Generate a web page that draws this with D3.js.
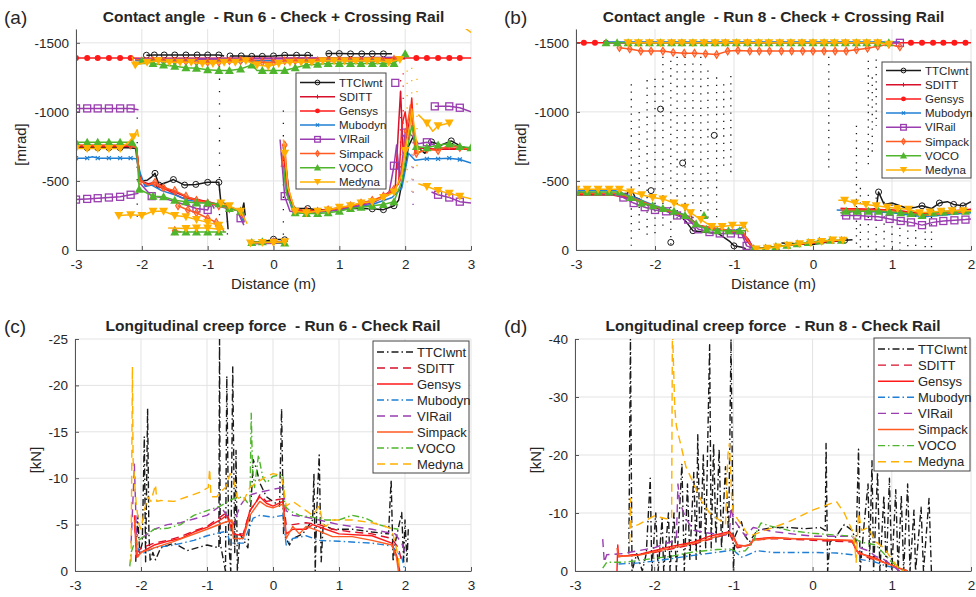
<!DOCTYPE html>
<html>
<head>
<meta charset="utf-8">
<script src="https://cdn.jsdelivr.net/npm/d3@7"></script>
<style>
  body { margin: 0; background: #fff; }
  svg { display: block; }
  text { font-family: "Liberation Sans", Arial, Helvetica, sans-serif; fill: #262626; white-space: pre; }
</style>
</head>
<body>
<svg id="chart" width="976" height="597"></svg>
<script>
// Series names / styles (same order in every panel)
const names = ['TTCIwnt', 'SDITT', 'Gensys', 'Mubodyn', 'VIRail', 'Simpack', 'VOCO', 'Medyna'];
const colors = ['#1a1a1a', '#d8102b', '#ff1a1a', '#1f7fd4', '#9a3db0', '#ff5a22', '#4fb52c', '#ffb000'];
const markerTypes = ['circle', 'plus', 'dot', 'x', 'square', 'diamond', 'triUp', 'triDown'];
const dashes = ['7,3,1.5,3', '8,5', null, '7,3,1.5,3', '8,5', null, '7,3,1.5,3', '8,5'];

const xTicksA = [-3, -2, -1, 0, 1, 2, 3];
const xTicksB = [-3, -2, -1, 0, 1, 2];
const yTicksAngle = [0, -500, -1000, -1500];
const yTicksC = [0, -5, -10, -15, -20, -25];
const yTicksD = [0, -10, -20, -30, -40];

// ---------- (a) contact angle, run 6  [x m, angle mrad, 0 = no marker]
const a_TTCIwnt = [
  [[-1.93,-1410],[-1.81,-1412],[-1.66,-1412],[-1.5,-1412],[-1.33,-1412],[-1.16,-1412],[-1.0,-1412],[-0.83,-1412],[-0.75,-1405,0]],
  [[-0.66,-1405],[-0.49,-1405],[-0.33,-1402],[-0.17,-1402],[0,-1405],[0.17,-1410],[0.35,-1410],[0.52,-1410],[0.6,-1408,0]],
  [[0.8,-1420,0],[0.84,-1422],[1.0,-1422],[1.17,-1420],[1.34,-1420],[1.5,-1420],[1.67,-1420],[1.8,-1420,0]],
  [[-3,-740,0],[-2.83,-740],[-2.67,-740],[-2.5,-740],[-2.33,-740],[-2.2,-740,0],[-2.08,-735,0],[-2.04,-560,0],[-2.0,-500,0],
   [-1.92,-505,0],[-1.85,-530,0],[-1.8,-555],[-1.74,-470],[-1.62,-490,0],[-1.52,-510],[-1.35,-470],[-1.18,-475],[-1.0,-490],
   [-0.83,-490],[-0.8,-350,0],[-0.72,-330,0],[-0.69,-150,0]],
  [[-0.52,-280,0],[-0.47,-300,0],[-0.45,-340,0],[-0.43,-250,0]],
  [[-0.35,-50,0],[-0.15,-60,0],[0,-78],[0.17,-74],[0.2,-60,0]],
  [[0.15,-760,0],[0.2,-560,0],[0.25,-360,0],[0.33,-300,0],[0.52,-300],[0.7,-290,0],[1.0,-300,0],[1.35,-300,0],[1.5,-298],
   [1.67,-292],[1.83,-320],[1.9,-360,0],[1.95,-480,0],[2.0,-600,0],[2.05,-750,0],[2.12,-820,0],[2.2,-740,0],[2.3,-700,0],
   [2.4,-783],[2.55,-760,0],[2.7,-790],[2.85,-750,0],[3,-730,0]]
];
const a_SDITT = [
  [[-2.1,-1380,0],[-1.0,-1382,0],[0,-1385,0],[1.0,-1385,0],[2.0,-1385,0]],
  [[-3,-750,0],[-2.1,-750,0],[-2.03,-500,0],[-1.9,-480,0],[-1.8,-490,0],[-1.6,-440,0],[-1.3,-380,0],[-1.0,-350,0],[-0.6,-300,0],[-0.45,-270,0]],
  [[-0.35,-55,0],[0.2,-60,0]],
  [[0.15,-750,0],[0.22,-400,0],[0.3,-290,0],[0.7,-285,0],[1.2,-320,0],[1.6,-370,0],[1.85,-450,0],[1.9,-900,0],[1.93,-1150,0],
   [1.97,-700,0],[2.05,-900,0],[2.1,-1000,0],[2.15,-740,0],[2.5,-730,0],[3,-730,0]]
];
const a_Gensys = [
  [[-3,-1390],[-2.83,-1390],[-2.67,-1390],[-2.5,-1390],[-2.33,-1390],[-2.17,-1390],[-2.0,-1388,0],[-1.0,-1388,0],[0,-1388,0],
   [1.0,-1388,0],[2.0,-1390,0],[2.17,-1390],[2.33,-1390],[2.5,-1390],[2.67,-1390],[2.83,-1390],[3,-1390,0]],
  [[-3,-755,0],[-2.15,-755,0],[-2.08,-740,0],[-2.03,-520,0],[-1.95,-470,0],[-1.8,-470,0],[-1.6,-430,0],[-1.4,-380,0],
   [-1.0,-350,0],[-0.7,-310,0],[-0.5,-280,0],[-0.45,-220,0]],
  [[-0.35,-55,0],[0.2,-60,0]],
  [[0.15,-700,0],[0.22,-400,0],[0.3,-290,0],[0.6,-280,0],[1.0,-300,0],[1.5,-350,0],[1.8,-420,0],[1.9,-480,0],[1.95,-900,0],
   [2.0,-1000,0],[2.05,-800,0],[2.1,-1100,0],[2.15,-700,0],[2.3,-720,0],[2.6,-740,0],[3,-730,0]]
];
const a_Mubodyn = [
  [[-2.1,-1370,0],[-1.5,-1372],[-1.0,-1372],[-0.5,-1370],[0,-1370],[0.5,-1372],[1.0,-1372],[1.5,-1372],[1.95,-1375,0]],
  [[-3,-665],[-2.83,-665],[-2.75,-675,0],[-2.67,-665],[-2.5,-665],[-2.33,-665],[-2.17,-665],[-2.08,-660,0],[-2.02,-550,0],
   [-1.95,-460,0],[-1.85,-470,0],[-1.7,-430,0],[-1.5,-400,0],[-1.3,-360,0],[-1.0,-340,0],[-0.7,-300,0],[-0.55,-290,0],[-0.45,-200,0]],
  [[-0.35,-50,0],[0.2,-55,0]],
  [[0.12,-700,0],[0.2,-420,0],[0.3,-270,0],[0.6,-270,0],[1.0,-290,0],[1.5,-330,0],[1.8,-380,0],[1.95,-450,0],[2.05,-700,0],
   [2.15,-650,0],[2.33,-660],[2.5,-660],[2.67,-665],[2.83,-655],[3,-630,0]]
];
const a_VIRail = [
  [[-2.1,-1385,0],[0,-1388,0],[2.0,-1395,0]],
  [[-3,-1025],[-2.83,-1025],[-2.67,-1025],[-2.5,-1025],[-2.33,-1025],[-2.17,-1025],[-2.05,-1015,0]],
  [[-3,-365],[-2.83,-370],[-2.67,-375],[-2.5,-380],[-2.33,-385],[-2.17,-400],[-2.05,-410,0]],
  [[-2.02,-480,0],[-1.85,-390],[-1.7,-380,0],[-1.5,-350,0],[-1.35,-330,0],[-1.17,-300],[-1.0,-290],[-0.95,-345,0],[-0.9,-300,0]],
  [[-0.55,-290,0],[-0.5,-230],[-0.45,-180,0]],
  [[-0.35,-45,0],[0.2,-50,0]],
  [[0.1,-800,0],[0.17,-390],[0.25,-280,0],[0.5,-270,0],[1.0,-290,0],[1.5,-340,0],[1.75,-400,0],[1.83,-610],[1.87,-760,0],
   [1.92,-500,0],[1.97,-700,0],[2.0,-850],[2.1,-830,0],[2.2,-770,0],[2.33,-780],[2.45,-760,0]],
  [[1.85,-1210]],
  [[2.45,-1040],[2.67,-1040],[2.83,-1030],[3,-1000,0]],
  [[2.4,-420,0],[2.5,-400],[2.67,-380],[2.83,-350],[3,-340,0]]
];
const a_Simpack = [
  [[-2.1,-1380,0],[-1.83,-1370],[-1.67,-1365],[-1.5,-1365],[-1.33,-1365],[-1.17,-1360],[-1.0,-1360],[-0.83,-1360],[-0.67,-1370],
   [-0.5,-1370],[-0.33,-1370],[-0.17,-1360],[0,-1360],[0.17,-1370],[0.33,-1370],[0.5,-1370],[0.67,-1370],[0.83,-1370],
   [1.0,-1375],[1.17,-1370],[1.33,-1370],[1.5,-1370],[1.67,-1370],[1.83,-1380],[1.95,-1400,0]],
  [[-3,-760],[-2.83,-760],[-2.67,-760],[-2.5,-760],[-2.33,-760],[-2.17,-760],[-2.08,-740,0],[-2.03,-500],[-1.9,-470,0],
   [-1.8,-490],[-1.67,-450],[-1.5,-430],[-1.33,-390],[-1.17,-360],[-1.0,-340],[-0.83,-320],[-0.67,-300],[-0.5,-280],[-0.45,-240,0]],
  [[-1.45,-320],[-1.3,-290],[-1.17,-270],[-1.0,-230],[-0.87,-200],[-0.8,-180,0],[-0.75,-130,0]],
  [[-1.5,-140],[-1.4,-130,0]],
  [[-0.35,-60,0],[0,-60],[0.2,-60,0]],
  [[0.12,-600,0],[0.17,-760],[0.22,-450,0],[0.33,-280],[0.5,-280],[0.67,-280],[0.83,-290],[1.0,-300],[1.17,-320],[1.33,-340],
   [1.5,-360],[1.67,-390],[1.83,-440],[1.92,-500,0],[1.97,-650,0],[2.02,-860],[2.08,-1050,0],[2.12,-850,0],[2.17,-700],
   [2.33,-730],[2.5,-720],[2.67,-760],[2.83,-740],[3,-730,0]]
];
const a_VOCO = [
  [[-2.1,-1330,0],[-2.0,-1370],[-1.83,-1350],[-1.67,-1340],[-1.5,-1330],[-1.33,-1320],[-1.17,-1315],[-1.0,-1305],[-0.83,-1300],
   [-0.67,-1300],[-0.5,-1310],[-0.33,-1340],[-0.25,-1300,0],[-0.17,-1300],[0,-1300],[0.17,-1300],[0.33,-1320],[0.5,-1340],
   [0.67,-1345],[0.83,-1350],[1.0,-1350],[1.17,-1350],[1.33,-1350],[1.5,-1350],[1.67,-1350],[1.83,-1350],[2.0,-1420]],
  [[-3,-780],[-2.83,-780],[-2.67,-780],[-2.5,-780],[-2.33,-780],[-2.15,-780],[-2.08,-740,0],[-2.04,-440],[-1.83,-390],
   [-1.67,-385],[-1.5,-360],[-1.33,-350],[-1.17,-340],[-1.0,-340],[-0.83,-335],[-0.67,-300],[-0.5,-280],[-0.45,-250,0]],
  [[-1.5,-130],[-1.33,-130],[-1.17,-130],[-1.0,-130],[-0.83,-130],[-0.72,-130,0]],
  [[-0.35,-55,0],[-0.33,-55],[-0.17,-60],[0.17,-50],[0.2,-50,0]],
  [[0.15,-600,0],[0.2,-400,0],[0.33,-270],[0.5,-265],[0.67,-265],[0.83,-270],[1.0,-280],[1.17,-300],[1.33,-310],[1.5,-320],
   [1.67,-330],[1.83,-350],[1.95,-500,0],[2.02,-700,0],[2.1,-900,0],[2.17,-750],[2.33,-740],[2.5,-760],[2.67,-770],[2.83,-750],[3,-740]]
];
const a_Medyna = [
  [[-2.15,-1400,0],[-2.1,-1340],[-1.92,-1360],[-1.75,-1370],[-1.58,-1360],[-1.42,-1360],[-1.25,-1360],[-1.08,-1350],[-0.92,-1350],
   [-0.75,-1360],[-0.58,-1360],[-0.42,-1370],[-0.25,-1340],[-0.08,-1330],[0.08,-1350],[0.25,-1360],[0.42,-1360],[0.58,-1360],
   [0.75,-1370],[0.92,-1370],[1.08,-1370],[1.25,-1370],[1.42,-1370],[1.58,-1370],[1.75,-1360],[1.92,-1380]],
  [[-3,-735],[-2.83,-735],[-2.67,-735],[-2.5,-735],[-2.33,-735],[-2.2,-780,0],[-2.13,-820],[-2.07,-870,0],[-2.05,-820,0]],
  [[-2.35,-250],[-2.17,-255],[-2.0,-250],[-1.83,-280],[-1.67,-280],[-1.5,-250],[-1.33,-240],[-1.17,-220],[-1.0,-200],[-0.83,-180],[-0.75,-150,0]],
  [[-1.6,-160,0],[-1.33,-155],[-1.17,-160],[-1.0,-160],[-0.83,-150],[-0.75,-150,0]],
  [[-0.8,-340],[-0.67,-320],[-0.5,-280],[-0.4,-190,0]],
  [[-0.35,-50],[-0.17,-55],[0,-55],[0.17,-60]],
  [[0.15,-800,0],[0.17,-700],[0.22,-450,0],[0.33,-280],[0.5,-270],[0.67,-280],[0.83,-290],[1.0,-310],[1.17,-320],[1.33,-340],
   [1.5,-350],[1.67,-380],[1.83,-420],[1.95,-550,0],[2.0,-720],[2.07,-900,0],[2.1,-1020,0],[2.15,-850,0],[2.2,-700,0]],
  [[2.2,-980,0],[2.33,-920],[2.42,-860,0],[2.5,-900],[2.67,-920]],
  [[2.2,-480,0],[2.33,-460],[2.5,-430],[2.67,-410],[2.83,-390],[3,-370,0]],
  [[2.9,-1610,0],[3,-1575,0]]
];
// dotted secondary-contact columns [x, top, bottom, series]
const a_dotCols = [[-2.07,-960,-240,0],[-0.82,-1330,-70,0],[0.15,-1010,-50,0],[-0.7,-300,-100,0],[1.93,-1230,-470,1],
  [1.97,-1280,-520,2],[2.03,-1300,-420,7],[2.1,-1320,-380,7],[2.12,-780,-280,4],[2.18,-1240,-600,7]];

// ---------- (b) contact angle, run 8
const b_TTCIwnt = [
  [[-3,-400,0],[-2.5,-400,0],[-2.35,-410,0],[-2.3,-440,0],[-2.25,-380,0],[-2.2,-370,0],[-2.1,-330,0],[-1.9,-290,0],[-1.7,-260,0],
   [-1.6,-200,0],[-1.52,-140],[-1.4,-130,0],[-1.2,-120,0],[-1.05,-60,0],[-1.0,-30],[-0.9,-20,0],[-0.85,-10,0]],
  [[-2.05,-430]], [[-1.93,-1020]], [[-1.65,-630]], [[-1.25,-830]], [[-1.8,-55]],
  [[-0.4,-50,0],[0,-40,0],[0.1,-50,0],[0.4,-70],[0.5,-75,0]],
  [[0.35,-270,0],[0.7,-290,0],[0.8,-300,0],[0.83,-420],[0.9,-330,0],[1.0,-340,0],[1.1,-320,0],[1.2,-300,0],[1.3,-310,0],
   [1.38,-320],[1.5,-300,0],[1.6,-340],[1.7,-350,0],[1.78,-330],[1.9,-320],[2,-350,0]]
];
const b_SDITT = [
  [[-2.65,-1502,0],[1.1,-1502,0]],
  [[-3,-405,0],[-2.5,-405,0],[-2.3,-375,0],[-2.0,-310,0],[-1.6,-250,0],[-1.45,-180,0],[-1.0,-130,0],[-0.9,-125,0],[-0.82,-80,0],[-0.75,-10,0]],
  [[0.35,-300,0],[1.0,-290,0],[1.4,-265,0],[2,-295,0]]
];
const b_Gensys = [
  [[-3,-1500,0],[-2.9,-1500],[-2.76,-1500],[-2.62,-1500],[-2.5,-1500,0],[1.1,-1500,0],[1.24,-1500],[1.38,-1500],[1.52,-1500],
   [1.65,-1500],[1.79,-1500],[1.93,-1500],[2,-1500,0]],
  [[-3,-400,0],[-2.55,-400,0],[-2.3,-370,0],[-2.0,-310,0],[-1.6,-240,0],[-1.45,-170,0],[-1.0,-130,0],[-0.9,-120,0],[-0.83,-60,0],[-0.75,-10,0]],
  [[-0.75,-10,0],[0.4,-70,0]],
  [[0.35,-300,0],[1.0,-290,0],[1.4,-260,0],[2,-290,0]]
];
const b_Mubodyn = [
  [[-2.65,-1505,0],[1.1,-1505,0]],
  [[-3,-430,0],[-2.5,-430,0],[-2.3,-390,0],[-2.0,-320,0],[-1.6,-250,0],[-1.45,-170,0],[-1.0,-140,0],[-0.85,-170,0]],
  [[0.3,-290,0],[1.0,-270,0],[1.4,-240,0],[2,-270,0]]
];
const b_VIRail = [
  [[-2.65,-1500,0],[0.97,-1500,0],[1.1,-1500]],
  [[-3,-420,0],[-2.5,-400,0],[-2.4,-380],[-2.27,-340],[-2.13,-310],[-2.0,-290],[-1.86,-280],[-1.72,-250],[-1.58,-220],[-1.45,-150],
   [-1.31,-130],[-1.18,-120],[-1.04,-120],[-0.9,-115],[-0.84,-30],[-0.75,-10,0]],
  [[0.35,-250,0],[0.42,-250],[0.56,-250],[0.7,-245],[0.83,-240],[0.97,-225],[1.11,-210],[1.24,-200],[1.38,-180],[1.52,-200],
   [1.65,-210],[1.79,-215],[1.93,-220],[2,-225,0]]
];
const b_Simpack = [
  [[-2.45,-1465],[-2.32,-1455],[-2.18,-1440],[-2.05,-1440],[-1.9,-1440],[-1.77,-1430],[-1.63,-1425],[-1.5,-1425],[-1.36,-1420],
   [-1.22,-1415],[-1.08,-1440],[-0.95,-1445],[-0.8,-1440],[-0.68,-1440],[-0.55,-1440],[-0.4,-1440],[-0.27,-1440],[-0.13,-1440],
   [0,-1440],[0.14,-1440],[0.28,-1440],[0.42,-1440],[0.55,-1450],[0.69,-1460],[0.82,-1475],[0.96,-1490],[1.1,-1470]],
  [[-3,-410,0],[-2.5,-410,0],[-2.3,-380,0],[-2.0,-315,0],[-1.6,-245,0],[-1.45,-175,0],[-1.0,-135,0],[-0.88,-125,0],[-0.8,-50,0],[-0.75,-10,0]],
  [[0.35,-290,0],[1.0,-285,0],[1.4,-250,0],[2,-280,0]]
];
const b_VOCO = [
  [[-2.62,-1500],[-2.48,-1500],[-2.34,-1500],[-2.21,-1500],[-2.07,-1500],[-1.93,-1500],[-1.79,-1500],[-1.66,-1500],[-1.52,-1500],
   [-1.38,-1500],[-1.24,-1500],[-1.11,-1500],[-0.97,-1500],[-0.83,-1500],[-0.69,-1500],[-0.56,-1500],[-0.42,-1500],[-0.28,-1500],
   [-0.14,-1500],[0,-1500],[0.14,-1500],[0.27,-1500],[0.41,-1500],[0.55,-1500],[0.68,-1500],[0.82,-1500],[0.96,-1500]],
  [[-3,-420],[-2.86,-420],[-2.72,-420],[-2.58,-420],[-2.45,-420],[-2.31,-380],[-2.17,-340],[-2.03,-320],[-1.9,-300],[-1.76,-280],
   [-1.62,-250],[-1.48,-190],[-1.35,-150],[-1.21,-140],[-1.07,-140],[-0.93,-140],[-0.85,-140,0]],
  [[-1.38,-250]],
  [[-0.75,-10],[-0.6,-15],[-0.47,-25],[-0.33,-35],[-0.2,-45],[-0.06,-55],[0.08,-65],[0.22,-70],[0.36,-70]],
  [[0.35,-270,0],[0.42,-280],[0.56,-280],[0.7,-280],[0.83,-280],[0.97,-275],[1.11,-270],[1.24,-265],[1.38,-250],[1.52,-270],
   [1.65,-275],[1.79,-280],[1.93,-280],[2,-280,0]]
];
const b_Medyna = [
  [[-2.34,-1500],[-2.21,-1500],[-2.07,-1500],[-1.93,-1500],[-1.79,-1500],[-1.66,-1500],[-1.52,-1500],[-1.38,-1500],[-1.24,-1500],
   [-1.11,-1500],[-0.97,-1500],[-0.83,-1500],[-0.69,-1500],[-0.56,-1500],[-0.42,-1500],[-0.28,-1500],[-0.14,-1500],[0,-1500],
   [0.14,-1500],[0.27,-1500],[0.41,-1500],[0.55,-1500],[0.68,-1500],[0.82,-1500],[0.96,-1490]],
  [[-3,-440],[-2.86,-440],[-2.72,-440],[-2.58,-440],[-2.45,-440],[-2.31,-420],[-2.17,-400],[-2.03,-380],[-1.9,-370],[-1.76,-340],
   [-1.62,-310],[-1.55,-270],[-1.42,-220],[-1.28,-170],[-1.15,-170],[-1.02,-180],[-0.88,-180],[-0.82,-130,0]],
  [[-0.72,-8],[-0.58,-12],[-0.45,-22],[-0.31,-35],[-0.17,-45],[-0.03,-55],[0.11,-62],[0.25,-72],[0.38,-70]],
  [[0.32,-360,0],[0.4,-360],[0.53,-340],[0.67,-330],[0.8,-320],[0.94,-310],[1.07,-300],[1.21,-295],[1.35,-270],[1.48,-275],
   [1.62,-280],[1.76,-285],[1.9,-285],[2,-285,0]]
];
const b_dotCols = [[-2.3,-1200,-30,0],[-2.2,-1000,-120,0],[-2.1,-1230,-80,0],[-2.0,-1240,-100,0],[-1.9,-1400,-170,0],
  [-1.8,-1370,-40,0],[-1.72,-1400,-190,0],[-1.62,-1400,-200,0],[-1.52,-1350,-220,0],[-1.42,-1400,-240,0],[-1.33,-1300,-220,0],
  [-1.22,-1250,-230,0],[-1.13,-1200,-600,0],[-1.04,-1260,-560,0],[0.2,-1400,-580,0],[0.55,-900,-40,0],[0.7,-1370,-620,0],
  [0.75,-1250,-700,0],[0.8,-1380,-900,0],[0.6,-450,0,0],[0.7,-400,0,0],[0.8,-380,0,0],[0.9,-350,0,0],[1.0,-330,0,0],
  [1.1,-320,0,0],[1.2,-300,0,0],[1.3,-250,0,0],[1.42,-240,0,0],[1.5,-240,0,0]];

// ---------- (c) longitudinal creep force, run 6  [x m, force kN]
const c_TTCIwnt = [[[-2.08,-1],[-2.05,-6],[-2.02,-2],[-1.98,-3],[-1.95,-14.5],[-1.93,-1],[-1.9,-17.5],[-1.88,-4],[-1.86,-1],[-1.82,-2],
  [-1.78,-1.2],[-1.7,-2.5],[-1.5,-3],[-1.3,-2.2],[-1.0,-2.8],[-0.82,-2.5],[-0.81,-25],[-0.8,-3],[-0.72,0],[-0.7,-21],[-0.67,-3],
  [-0.64,0],[-0.61,-22],[-0.58,-2],[-0.56,-13],[-0.54,0],[-0.5,-4],[-0.42,-3],[-0.38,-2.5],[-0.32,-9],[-0.3,-12],[-0.25,-11],
  [-0.2,-9.5],[-0.1,-8],[0,-7.5],[0.1,-7],[0.13,-17.5],[0.16,-4],[0.2,-3.5],[0.25,-2.8],[0.3,-3.5],[0.45,-4],[0.55,-5],[0.6,-5.5],
  [0.62,-10.5],[0.64,0],[0.66,-6],[0.7,-12.5],[0.73,-1],[0.76,-5],[0.9,-4.5],[1.2,-4.5],[1.5,-4.2],[1.75,-4],[1.79,-9.8],[1.82,-1],
  [1.85,-3],[1.95,-6.3],[1.98,-1],[2.0,-5.5],[2.03,-1],[2.05,-4.5]]];
const c_SDITT = [[[-2.1,-5],[-2.05,-2],[-2.0,-2.5],[-1.8,-3],[-1.6,-3.3],[-1.4,-3.7],[-1.2,-4.3],[-1.0,-4.8],[-0.8,-5.8],[-0.7,-6.3],
  [-0.6,-4],[-0.45,-4],[-0.35,-6.5],[-0.25,-7.5],[-0.2,-8.2],[-0.1,-7.5],[0,-7.6],[0.15,-7.8],[0.2,-5],[0.3,-5],[0.5,-5.2],
  [0.7,-5],[0.9,-4.5],[1.2,-4.2],[1.5,-4],[1.8,-3.5],[1.9,-2.5],[1.95,-1]]];
const c_Gensys = [[[-2.1,-6],[-2.07,-1.5],[-2.0,-2],[-1.8,-2.8],[-1.6,-3.2],[-1.4,-3.5],[-1.2,-4.2],[-1.0,-4.7],[-0.8,-5.5],[-0.7,-6],
  [-0.6,-4],[-0.45,-3.8],[-0.35,-6.5],[-0.25,-7.5],[-0.2,-8],[-0.1,-7.3],[0,-7],[0.15,-7.5],[0.2,-4],[0.3,-4.5],[0.5,-4.5],
  [0.6,-5],[0.8,-4.5],[1.0,-4],[1.5,-3.8],[1.8,-3],[1.88,-1.5],[1.92,0]]];
const c_Mubodyn = [[[-2.05,-2.5],[-2.0,-1.8],[-1.8,-2.5],[-1.5,-2.8],[-1.2,-3.3],[-1.0,-3.8],[-0.7,-4.3],[-0.65,-3],[-0.45,-3],
  [-0.3,-5.7],[-0.2,-6],[0,-5.8],[0.15,-6],[0.2,-2.8],[0.3,-3.5],[0.5,-3.8],[0.7,-3.3],[1.0,-3.2],[1.5,-3],[1.8,-2.7],[1.95,-1.5],[2.0,0]]];
const c_VIRail = [[[-2.15,-3],[-2.12,-8],[-2.1,-11.5],[-2.07,-4],[-2.0,-3.5],[-1.9,-4],[-1.8,-4.5],[-1.6,-5],[-1.4,-5.2],[-1.2,-5.6],
  [-1.0,-6],[-0.9,-6.5],[-0.8,-7],[-0.7,-6],[-0.6,-5],[-0.5,-7],[-0.4,-8],[-0.3,-8.3],[-0.2,-8.5],[0,-8.8],[0.15,-9],[0.2,-6.5],
  [0.3,-6],[0.5,-5.8],[0.7,-5.5],[1.0,-5],[1.2,-4.8],[1.5,-4.5],[1.7,-4.2],[1.85,-4],[1.95,-3],[2.0,-2]]];
const c_Simpack = [[[-2.1,-5.5],[-2.05,-1.5],[-2.0,-2],[-1.8,-2.5],[-1.5,-3.2],[-1.0,-4.5],[-0.75,-5.2],[-0.62,-5.5],[-0.6,-3.5],
  [-0.45,-3.5],[-0.35,-6],[-0.25,-7],[-0.2,-7.5],[-0.1,-7],[0,-6.8],[0.15,-7.2],[0.2,-3.5],[0.3,-4.8],[0.4,-4],[0.5,-4.8],
  [0.7,-4.3],[0.9,-3.7],[1.2,-3.7],[1.5,-3.3],[1.8,-2.8],[1.87,-1.5],[1.9,0]]];
const c_VOCO = [[[-2.17,-0.5],[-2.15,-2],[-2.1,-3],[-2.0,-3.5],[-1.9,-4],[-1.8,-4.5],[-1.6,-4.6],[-1.4,-5],[-1.2,-6],[-1.0,-6.5],
  [-0.8,-7],[-0.6,-7.8],[-0.45,-8],[-0.35,-7],[-0.33,-17],[-0.31,-11],[-0.28,-9],[-0.22,-12.5],[-0.18,-11],[-0.15,-10],[-0.1,-9.5],
  [0,-10.2],[0.15,-10.4],[0.18,-7],[0.25,-6.5],[0.4,-6],[0.6,-5.8],[0.8,-5.5],[1.0,-5.5],[1.2,-6],[1.4,-5.7],[1.6,-5],[1.8,-4.6],[1.9,-4.5]]];
const c_Medyna = [[[-2.15,-1],[-2.13,-22],[-2.12,-12],[-2.1,-10],[-2.07,-7],[-2.03,-5],[-2.0,-4.5],[-1.95,-6.5],[-1.9,-8],[-1.85,-7.5],
  [-1.78,-9.3],[-1.76,-7.5],[-1.7,-7.6],[-1.5,-7.5],[-1.3,-8],[-1.1,-8.5],[-0.98,-9],[-0.96,-11],[-0.94,-8],[-0.85,-8],[-0.8,-8.5],
  [-0.72,-9],[-0.65,-10.5],[-0.6,-10],[-0.55,-8],[-0.45,-7.5],[-0.35,-9],[-0.25,-9.5],[-0.1,-10.2],[0,-10.5],[0.12,-10.3],[0.16,-9],
  [0.2,-7],[0.3,-7.5],[0.4,-7],[0.5,-6.5],[0.6,-6],[0.7,-7],[0.76,-5],[0.8,-4.8],[0.9,-5.5],[1.2,-5.5],[1.5,-5.2],[1.7,-4.8],
  [1.8,-4.5],[1.85,-3],[1.9,-1.5],[1.92,0]]];

// ---------- (d) longitudinal creep force, run 8
const d_TTCIwnt = [[[-2.32,-3],[-2.3,-40],[-2.28,0],[-2.22,-3],[-2.15,0],[-2.1,-3],[-2.05,-16],[-2.03,0],[-1.98,-10],[-1.95,0],[-1.9,-9],
  [-1.88,0],[-1.82,-10],[-1.8,0],[-1.75,-10],[-1.72,0],[-1.65,-18.5],[-1.62,0],[-1.58,-15],[-1.55,-2],[-1.5,-17],[-1.47,-2],
  [-1.45,-23.5],[-1.42,-3],[-1.38,-20],[-1.35,-4],[-1.3,-39],[-1.28,-4],[-1.25,-22],[-1.22,-5],[-1.18,-21],[-1.15,-4],[-1.1,-18],
  [-1.06,-6],[-1.03,-40],[-1.0,0],[-0.98,-6],[-0.9,-8.5],[-0.85,-6],[-0.8,-5],[-0.7,-7],[-0.5,-7.5],[-0.3,-7.5],[-0.1,-7.3],
  [0.1,-7.5],[0.16,-7],[0.17,-22],[0.19,0],[0.22,-5],[0.3,-6],[0.4,-8],[0.5,-7],[0.55,-5],[0.58,-21],[0.6,0],[0.65,-8],[0.7,-15],
  [0.72,-2],[0.75,-19],[0.77,0],[0.82,-17],[0.85,0],[0.9,-13],[0.93,0],[0.97,-16],[1.0,0],[1.05,-14],[1.08,0],[1.12,-13],[1.15,0],
  [1.2,-15],[1.23,0],[1.28,-10.5],[1.3,0],[1.37,-11],[1.4,0],[1.47,-12.5],[1.5,0]]];
const d_SDITT = [[[-2.47,-3],[-2.45,-2.5],[-2.0,-3.2],[-1.5,-4.6],[-1.05,-6.5],[-1.0,-5],[-0.95,-4],[-0.8,-4.5],[-0.75,-5.3],[-0.5,-5.6],
  [0,-5.3],[0.5,-5.0],[0.58,-3],[0.7,-2.3],[0.9,-1.5],[1.1,-0.5],[1.2,0]]];
const d_Gensys = [[[-2.47,0],[-2.46,-4.5],[-2.45,-2.5],[-2.2,-2.8],[-2.0,-3.5],[-1.8,-4.2],[-1.5,-5],[-1.3,-6],[-1.05,-6.8],[-1.0,-6],
  [-0.95,-4.5],[-0.85,-4.3],[-0.78,-4.5],[-0.75,-5.5],[-0.5,-5.8],[-0.3,-5.6],[0,-5.5],[0.3,-5.3],[0.5,-5.2],[0.55,-3.5],[0.65,-2.8],
  [0.8,-2.2],[0.9,-1.5],[1.0,-1],[1.1,-0.4],[1.2,0]]];
const d_Mubodyn = [[[-2.45,-1.2],[-2.2,-1.4],[-2.0,-1.7],[-1.5,-2.7],[-1.0,-3.6],[-0.95,-3],[-0.9,-2.4],[-0.85,-2.6],[-0.7,-3.5],
  [-0.5,-3.2],[0,-3.2],[0.3,-3.1],[0.5,-2.8],[0.6,-2],[0.8,-1.5],[0.9,-1],[1.05,-0.5],[1.1,0]]];
const d_VIRail = [[[-2.65,-5.5],[-2.63,-1.5],[-2.6,-2.8],[-2.4,-3],[-2.2,-3.5],[-2.0,-4],[-1.8,-5],[-1.72,-5.5],[-1.7,-15],[-1.68,-12],
  [-1.6,-9],[-1.5,-7],[-1.3,-6.5],[-1.1,-6.2],[-1.05,-6.5],[-1.03,-11],[-1.0,-9],[-0.95,-8],[-0.85,-6],[-0.75,-7.5],[-0.5,-6.8],
  [-0.2,-6.3],[0,-6],[0.3,-6],[0.5,-6],[0.55,-5],[0.6,-4],[0.7,-3.5],[0.8,-2.5],[0.9,-2],[1.0,-1],[1.1,0]]];
const d_Simpack = [[[-2.47,-4],[-2.45,-2.5],[-2.2,-2.7],[-2.0,-3.3],[-1.5,-4.8],[-1.05,-6.6],[-1.0,-5.8],[-0.95,-4.2],[-0.8,-4.5],
  [-0.75,-5.3],[-0.5,-5.7],[0,-5.5],[0.5,-5.3],[0.57,-3.2],[0.7,-2.5],[0.9,-1.5],[1.1,-0.5],[1.2,0]]];
const d_VOCO = [[[-2.65,-0.5],[-2.6,-1.5],[-2.4,-1.5],[-2.2,-1.8],[-2.0,-2.2],[-1.8,-2.5],[-1.5,-3.3],[-1.2,-3.7],[-1.05,-3.8],
  [-0.95,-3.3],[-0.85,-3.5],[-0.75,-5],[-0.7,-7],[-0.65,-8.3],[-0.55,-7.8],[-0.3,-7],[0,-6.5],[0.3,-6.2],[0.5,-6],[0.6,-5],
  [0.8,-4.5],[0.9,-3],[1.0,-1.5],[1.1,-0.5],[1.15,0]]];
const d_Medyna = [[[-2.31,-5],[-2.3,-12.5],[-2.29,-7.5],[-2.2,-8],[-2.0,-9.5],[-1.85,-9],[-1.78,-9],[-1.77,-42],[-1.74,-28],[-1.72,-25],
  [-1.6,-18],[-1.5,-15],[-1.4,-12],[-1.3,-10],[-1.2,-9],[-1.1,-8],[-1.07,-20],[-1.05,-22],[-1.02,-12],[-1.0,-10],[-0.9,-8],
  [-0.8,-6],[-0.7,-6.5],[-0.5,-7.5],[-0.3,-8.5],[0,-10.5],[0.2,-11.5],[0.3,-12],[0.4,-10],[0.5,-7],[0.53,-5],[0.55,-1.5],
  [0.58,-10],[0.62,-7],[0.7,-7.5],[0.8,-5],[0.9,-4],[1.0,-2],[1.1,-0.3],[1.15,0]]];

const svg = d3.select('#chart');
const FONT = '"Liberation Sans", Arial, Helvetica, sans-serif';

function drawMarker(g, i, cx, cy, s) {
  const c = colors[i];
  const t = markerTypes[i];
  const m = g.append('g').attr('transform', `translate(${cx},${cy})`);
  if (t === 'circle') {
    m.append('circle').attr('r', 3 * s).attr('fill', 'none').attr('stroke', c).attr('stroke-width', 1);
  } else if (t === 'dot') {
    m.append('circle').attr('r', 3 * s).attr('fill', c);
  } else if (t === 'plus') {
    m.append('path').attr('d', `M${-2.5 * s},0H${2.5 * s}M0,${-2.5 * s}V${2.5 * s}`).attr('stroke', c).attr('stroke-width', 1);
  } else if (t === 'x') {
    m.append('path').attr('d', `M${-2 * s},${-2 * s}L${2 * s},${2 * s}M${-2 * s},${2 * s}L${2 * s},${-2 * s}`).attr('stroke', c).attr('stroke-width', 1.2);
  } else if (t === 'square') {
    m.append('rect').attr('x', -3.5 * s).attr('y', -3.5 * s).attr('width', 7 * s).attr('height', 7 * s)
      .attr('fill', 'none').attr('stroke', c).attr('stroke-width', 1.3);
  } else if (t === 'diamond') {
    m.append('path').attr('d', `M0,${-3.8 * s}L${2.4 * s},0L0,${3.8 * s}L${-2.4 * s},0Z`)
      .attr('fill', c).attr('fill-opacity', 0.45).attr('stroke', c).attr('stroke-width', 1.1);
  } else if (t === 'triUp') {
    m.append('path').attr('d', `M0,${-4.5 * s}L${4.5 * s},${3.5 * s}L${-4.5 * s},${3.5 * s}Z`).attr('fill', c);
  } else if (t === 'triDown') {
    m.append('path').attr('d', `M0,${4.5 * s}L${4.5 * s},${-3.5 * s}L${-4.5 * s},${-3.5 * s}Z`).attr('fill', c);
  }
}

function drawPanel(p) {
  const x = d3.scaleLinear().domain(p.xDomain).range([p.left, p.right]);
  const y = d3.scaleLinear().domain(p.yDomain).range([p.bottom, p.top]);
  const g = svg.append('g');

  // grid
  g.selectAll('.gx').data(p.xTicks).enter().append('line')
    .attr('x1', d => x(d)).attr('x2', d => x(d)).attr('y1', p.top).attr('y2', p.bottom)
    .attr('stroke', '#e3e3e3').attr('stroke-width', 1);
  g.selectAll('.gy').data(p.yTicks).enter().append('line')
    .attr('x1', p.left).attr('x2', p.right).attr('y1', d => y(d)).attr('y2', d => y(d))
    .attr('stroke', '#e3e3e3').attr('stroke-width', 1);

  const clipId = 'clip-' + p.id;
  svg.append('clipPath').attr('id', clipId).append('rect')
    .attr('x', p.left).attr('y', p.top).attr('width', p.right - p.left).attr('height', p.bottom - p.top);
  const plot = g.append('g').attr('clip-path', `url(#${clipId})`);

  // dotted columns
  (p.dotCols || []).forEach(d => {
    plot.append('line').attr('x1', x(d[0])).attr('x2', x(d[0])).attr('y1', y(d[1])).attr('y2', y(d[2]))
      .attr('stroke', colors[d[3]]).attr('stroke-width', 1.3).attr('stroke-dasharray', p.dotDash);
  });

  const line = d3.line().x(d => x(d[0])).y(d => y(d[1]));
  p.series.forEach((segs, i) => {
    segs.forEach(seg => {
      if (seg.length > 1) {
        plot.append('path').attr('d', line(seg)).attr('fill', 'none')
          .attr('stroke', colors[i]).attr('stroke-width', p.lw)
          .attr('stroke-linejoin', 'round')
          .attr('stroke-dasharray', p.markers ? null : dashes[i]);
      }
      if (p.markers) {
        seg.filter(d => d[2] !== 0).forEach(d => drawMarker(plot, i, x(d[0]), y(d[1]), 1));
      }
    });
  });

  // axes
  const xAxis = d3.axisBottom(x).tickValues(p.xTicks).tickFormat(d => String(d))
    .tickSizeInner(-4).tickSizeOuter(0).tickPadding(9);
  const yAxis = d3.axisLeft(y).tickValues(p.yTicks).tickFormat(d => String(d))
    .tickSizeInner(-4).tickSizeOuter(0).tickPadding(7);
  const gx = g.append('g').attr('transform', `translate(0,${p.bottom})`).call(xAxis);
  const gy = g.append('g').attr('transform', `translate(${p.left},0)`).call(yAxis);
  [gx, gy].forEach(a => {
    a.select('.domain').attr('stroke', '#555').attr('stroke-width', 1);
    a.selectAll('.tick line').attr('stroke', '#555');
    a.selectAll('.tick text').attr('font-family', FONT).attr('font-size', '13.5px').attr('fill', '#262626');
  });

  // titles and labels
  svg.append('text').attr('x', (p.left + p.right) / 2).attr('y', p.titleY).attr('text-anchor', 'middle')
    .attr('font-size', '15.5px').attr('font-weight', 'bold').attr('fill', '#111').text(p.title);
  svg.append('text').attr('x', p.tagX).attr('y', p.titleY + 2).attr('font-size', '19px').attr('fill', '#111').text(p.tag);
  svg.append('text').attr('transform', `translate(${p.yLabelX},${(p.top + p.bottom) / 2 + 5}) rotate(-90)`)
    .attr('text-anchor', 'middle').attr('font-size', '15px').text(p.yLabel);
  if (p.xLabel) {
    svg.append('text').attr('x', (p.left + p.right) / 2).attr('y', p.bottom + 39).attr('text-anchor', 'middle')
      .attr('font-size', '15px').text(p.xLabel);
  }

  // legend
  const L = p.legend;
  const lg = svg.append('g');
  lg.append('rect').attr('x', L.x).attr('y', L.y).attr('width', L.w).attr('height', L.h)
    .attr('fill', '#fff').attr('stroke', '#444').attr('stroke-width', 1);
  names.forEach((n, i) => {
    const ry = L.y + L.first + i * L.step;
    lg.append('line').attr('x1', L.x + 4).attr('x2', L.x + 4 + L.len).attr('y1', ry).attr('y2', ry)
      .attr('stroke', colors[i]).attr('stroke-width', p.lw)
      .attr('stroke-dasharray', p.markers ? null : dashes[i]);
    if (p.markers) drawMarker(lg, i, L.x + 4 + L.len / 2, ry, 0.8);
    lg.append('text').attr('x', L.x + 8 + L.len).attr('y', ry + L.fs * 0.36)
      .attr('font-size', L.fs + 'px').text(n);
  });
}

drawPanel({
  id: 'a', left: 76, right: 471, top: 29, bottom: 250, xDomain: [-3, 3], yDomain: [0, -1600],
  xTicks: xTicksA, yTicks: yTicksAngle, markers: true, lw: 1.5, dotDash: '1.3,11',
  series: [a_TTCIwnt, a_SDITT, a_Gensys, a_Mubodyn, a_VIRail, a_Simpack, a_VOCO, a_Medyna], dotCols: a_dotCols,
  title: 'Contact angle  - Run 6 - Check + Crossing Rail', titleY: 22, tag: '(a)', tagX: 4,
  yLabel: '[mrad]', yLabelX: 26, xLabel: 'Distance (m)',
  legend: { x: 296, y: 73, w: 90, h: 116, first: 9.5, step: 14.2, len: 35, fs: 11.5 }
});
drawPanel({
  id: 'b', left: 576, right: 971, top: 29, bottom: 250, xDomain: [-3, 2], yDomain: [0, -1600],
  xTicks: xTicksB, yTicks: yTicksAngle, markers: true, lw: 1.5, dotDash: '1.3,6',
  series: [b_TTCIwnt, b_SDITT, b_Gensys, b_Mubodyn, b_VIRail, b_Simpack, b_VOCO, b_Medyna], dotCols: b_dotCols,
  title: 'Contact angle  - Run 8 - Check + Crossing Rail', titleY: 22, tag: '(b)', tagX: 504,
  yLabel: '[mrad]', yLabelX: 526, xLabel: 'Distance (m)',
  legend: { x: 882, y: 62, w: 89, h: 116, first: 8.5, step: 14.2, len: 35, fs: 11.5 }
});
drawPanel({
  id: 'c', left: 75, right: 471, top: 339, bottom: 571, xDomain: [-3, 3], yDomain: [0, -25],
  xTicks: xTicksA, yTicks: yTicksC, markers: false, lw: 1.4,
  series: [c_TTCIwnt, c_SDITT, c_Gensys, c_Mubodyn, c_VIRail, c_Simpack, c_VOCO, c_Medyna],
  title: 'Longitudinal creep force  - Run 6 - Check Rail', titleY: 331, tag: '(c)', tagX: 4,
  yLabel: '[kN]', yLabelX: 41,
  legend: { x: 373, y: 341, w: 96, h: 132, first: 11, step: 16, len: 36, fs: 13 }
});
drawPanel({
  id: 'd', left: 575, right: 971, top: 339, bottom: 571, xDomain: [-3, 2], yDomain: [0, -40],
  xTicks: xTicksB, yTicks: yTicksD, markers: false, lw: 1.4,
  series: [d_TTCIwnt, d_SDITT, d_Gensys, d_Mubodyn, d_VIRail, d_Simpack, d_VOCO, d_Medyna],
  title: 'Longitudinal creep force  - Run 8 - Check Rail', titleY: 331, tag: '(d)', tagX: 504,
  yLabel: '[kN]', yLabelX: 541,
  legend: { x: 874, y: 338, w: 96, h: 133, first: 11, step: 16.1, len: 36, fs: 13 }
});
</script>
</body>
</html>
